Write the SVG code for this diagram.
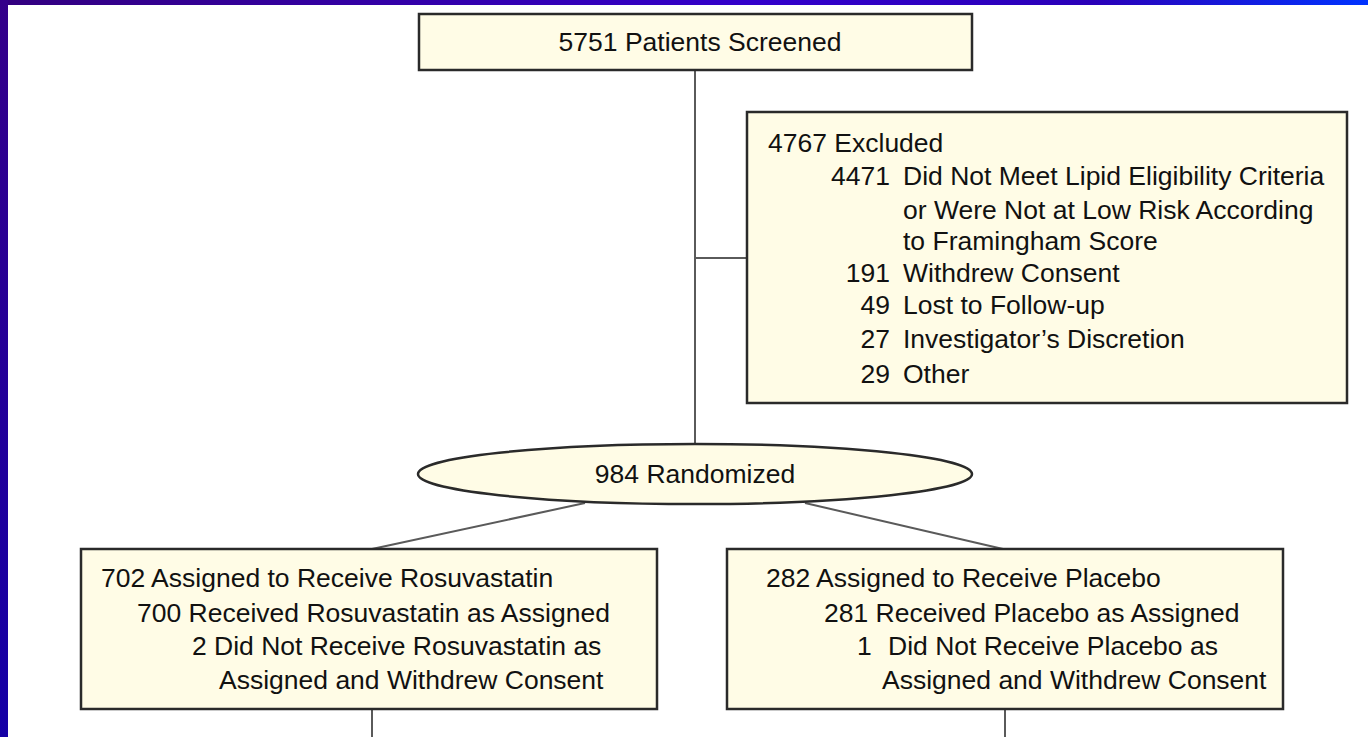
<svg xmlns="http://www.w3.org/2000/svg" width="1368" height="737" viewBox="0 0 1368 737">
<defs>
<linearGradient id="topbar" x1="0" y1="0" x2="1" y2="0">
<stop offset="0" stop-color="#33007f"/>
<stop offset="0.55" stop-color="#3300cc"/>
<stop offset="0.8" stop-color="#2a00b8"/>
<stop offset="1" stop-color="#0033ff"/>
</linearGradient>
<linearGradient id="leftbar" x1="0" y1="0" x2="0" y2="1">
<stop offset="0" stop-color="#34008a"/>
<stop offset="1" stop-color="#1500a6"/>
</linearGradient>
<style>
.box{fill:#fffce6;stroke:#2a2a2a;stroke-width:2.5}
.conn{stroke:#5a5a5a;stroke-width:2;fill:none}
text{font-family:"Liberation Sans",Arial,Helvetica,sans-serif;font-size:26.5px;fill:#111}
.mid{text-anchor:middle}
.end{text-anchor:end}
</style>
</defs>
<rect x="0" y="0" width="1368" height="737" fill="#ffffff"/>
<rect x="0" y="0" width="1368" height="5" fill="url(#topbar)"/>
<rect x="0" y="0" width="8" height="737" fill="url(#leftbar)"/>

<g id="connectors">
<line class="conn" x1="695" y1="70" x2="695" y2="445"/>
<line class="conn" x1="695" y1="258" x2="747" y2="258"/>
<line class="conn" x1="585" y1="503" x2="372" y2="549"/>
<line class="conn" x1="805" y1="503" x2="1003" y2="549"/>
<line class="conn" x1="372" y1="709" x2="372" y2="737"/>
<line class="conn" x1="1005" y1="709" x2="1005" y2="737"/>
</g>

<g id="screened">
<rect class="box" x="419" y="14" width="553" height="56"/>
<text class="mid" x="700" y="51">5751 Patients Screened</text>
</g>

<g id="excluded">
<rect class="box" x="747" y="112" width="600" height="291"/>
<text x="768" y="152">4767 Excluded</text>
<text class="end" x="890" y="185">4471</text>
<text x="903" y="185">Did Not Meet Lipid Eligibility Criteria</text>
<text x="903" y="219">or Were Not at Low Risk According</text>
<text x="903" y="250">to Framingham Score</text>
<text class="end" x="890" y="282">191</text>
<text x="903" y="282">Withdrew Consent</text>
<text class="end" x="890" y="314">49</text>
<text x="903" y="314">Lost to Follow-up</text>
<text class="end" x="890" y="348">27</text>
<text x="903" y="348">Investigator’s Discretion</text>
<text class="end" x="890" y="383">29</text>
<text x="903" y="383">Other</text>
</g>

<g id="randomized">
<ellipse class="box" cx="695" cy="474" rx="277" ry="30"/>
<text class="mid" x="695" y="483">984 Randomized</text>
</g>

<g id="rosuvastatin">
<rect class="box" x="81" y="549" width="576" height="160"/>
<text x="101" y="587">702 Assigned to Receive Rosuvastatin</text>
<text x="137" y="622">700 Received Rosuvastatin as Assigned</text>
<text x="192" y="655">2</text>
<text x="214" y="655">Did Not Receive Rosuvastatin as</text>
<text x="219" y="689">Assigned and Withdrew Consent</text>
</g>

<g id="placebo">
<rect class="box" x="727" y="549" width="556" height="160"/>
<text x="766" y="587">282 Assigned to Receive Placebo</text>
<text x="824" y="622">281 Received Placebo as Assigned</text>
<text x="857" y="655">1</text>
<text x="888" y="655">Did Not Receive Placebo as</text>
<text x="882" y="689">Assigned and Withdrew Consent</text>
</g>
</svg>
